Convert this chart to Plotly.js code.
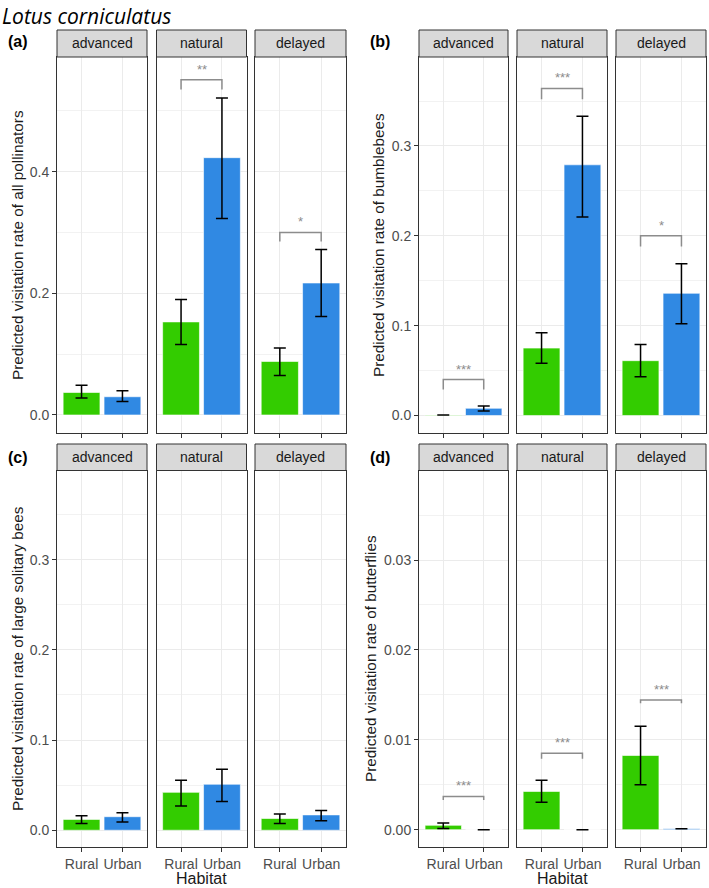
<!DOCTYPE html>
<html>
<head>
<meta charset="utf-8">
<script src="https://cdn.plot.ly/plotly-3.0.1.min.js"></script>
<style>
  html, body { margin: 0; padding: 0; background: #fff; }
  #plot { width: 709px; height: 888px; }
</style>
</head>
<body>
<div id="plot"></div>
<script>
// categories
const habitats = ['Rural', 'Urban'];
const timings = ['advanced', 'natural', 'delayed'];
const panelLetters = ['(a)', '(b)', '(c)', '(d)'];
const yTitles = [
  'Predicted visitation rate of all pollinators',
  'Predicted visitation rate of bumblebees',
  'Predicted visitation rate of large solitary bees',
  'Predicted visitation rate of butterflies'
];

// predicted values [timing][habitat]
const allMean = [[0.037, 0.030], [0.153, 0.423], [0.088, 0.217]];
const allLow  = [[0.028, 0.022], [0.116, 0.323], [0.065, 0.162]];
const allHigh = [[0.049, 0.040], [0.190, 0.521], [0.110, 0.272]];

const bumbleMean = [[0.0005, 0.008], [0.075, 0.279], [0.061, 0.136]];
const bumbleLow  = [[0.0004, 0.005], [0.058, 0.221], [0.043, 0.102]];
const bumbleHigh = [[0.0006, 0.0105], [0.092, 0.333], [0.079, 0.169]];

const solitaryMean = [[0.012, 0.015], [0.042, 0.051], [0.013, 0.017]];
const solitaryLow  = [[0.0075, 0.009], [0.027, 0.032], [0.0075, 0.0105]];
const solitaryHigh = [[0.016, 0.0195], [0.0555, 0.0675], [0.018, 0.022]];

const butterMean = [[0.00048, 0], [0.00425, 0], [0.00825, 0.0001]];
const butterLow  = [[0.00014, 0], [0.00306, 0], [0.0050, 0.0001]];
const butterHigh = [[0.00073, 0], [0.0055, 0], [0.0115, 0.0001]];

// significance brackets: panel, timing, top, leg end, label
const sigPanel  = [0, 0, 1, 1, 1, 3, 3, 3];
const sigTiming = [1, 2, 0, 1, 2, 0, 1, 2];
const sigTop    = [0.551, 0.300, 0.040, 0.364, 0.200, 0.0037, 0.0085, 0.01443];
const sigLeg    = [0.535, 0.285, 0.029, 0.352, 0.188, 0.0033, 0.0079, 0.01405];
const sigLabel  = ['**', '*', '***', '***', '*', '***', '***', '***'];

const yRanges = [[-0.0296, 0.5885], [-0.0195, 0.399], [-0.0186, 0.399], [-0.00193, 0.03996]];
const yDticks = [0.2, 0.1, 0.1, 0.01];
const yFormats = ['.1f', '.1f', '.1f', '.2f'];

const means = [allMean, bumbleMean, solitaryMean, butterMean];
const lows = [allLow, bumbleLow, solitaryLow, butterLow];
const highs = [allHigh, bumbleHigh, solitaryHigh, butterHigh];

const W = 709, H = 888;
const px = x => x / W;
const py = y => 1 - y / H;

// facet placement in pixels
const colFacets = [
  [[57, 147], [156.5, 246.5], [255, 346]],
  [[419, 508], [517, 607], [616, 706]]
];
const rowPlot = [[57, 433], [470.5, 847]];
const stripH = [27, 26.5];

const green = '#33cc00', blue = '#3089e3';
const font = '"Liberation Sans", Arial, sans-serif';

const data = [];
const layout = {
  width: W, height: H,
  margin: { l: 0, r: 0, t: 0, b: 0 },
  paper_bgcolor: '#fff', plot_bgcolor: '#fff',
  showlegend: false,
  bargap: 0,
  font: { family: font, size: 14, color: '#1a1a1a' },
  shapes: [], annotations: []
};

for (let p = 0; p < 4; p++) {
  const row = Math.floor(p / 2), col = p % 2;
  for (let f = 0; f < 3; f++) {
    const k = p * 3 + f + 1;
    const xa = k === 1 ? 'x' : 'x' + k;
    const ya = k === 1 ? 'y' : 'y' + k;
    const m = means[p][f];
    data.push({
      type: 'bar',
      x: [0, 1],
      y: m,
      width: 0.9,
      xaxis: xa, yaxis: ya,
      marker: { color: [green, blue], line: { color: 'rgba(255,255,255,0.6)', width: 1 } },
      error_y: {
        type: 'data', symmetric: false,
        array: highs[p][f].map((h, i) => h - m[i]),
        arrayminus: lows[p][f].map((l, i) => m[i] - l),
        color: '#000', thickness: 1.5, width: 6
      },
      hoverinfo: 'skip'
    });

    const xd = colFacets[col][f];
    const yd = rowPlot[row];
    layout['xaxis' + (k === 1 ? '' : k)] = {
      domain: [px(xd[0]), px(xd[1])],
      anchor: ya,
      range: [-0.6, 1.6],
      tickvals: [0, 1],
      ticktext: habitats,
      showticklabels: row === 1,
      ticks: 'outside', ticklen: 4, tickcolor: '#333', tickwidth: 1,
      tickfont: { size: 14, color: '#4d4d4d' },
      showgrid: true, gridcolor: '#ebebeb', gridwidth: 1,
      zeroline: false,
      showline: true, mirror: true, linecolor: '#333', linewidth: 1,
      fixedrange: true
    };
    layout['yaxis' + (k === 1 ? '' : k)] = {
      domain: [py(yd[1]), py(yd[0])],
      anchor: xa,
      range: yRanges[p],
      tick0: 0, dtick: yDticks[p],
      tickformat: yFormats[p],
      showticklabels: f === 0,
      ticks: f === 0 ? 'outside' : '', ticklen: 4, tickcolor: '#333', tickwidth: 1,
      tickfont: { size: 14, color: '#4d4d4d' },
      showgrid: true, gridcolor: '#ebebeb', gridwidth: 1,
      minor: { dtick: yDticks[p] / 2, tick0: 0, showgrid: true, gridcolor: '#f2f2f2', gridwidth: 1, ticks: '' },
      zeroline: false,
      showline: true, mirror: true, linecolor: '#333', linewidth: 1,
      fixedrange: true
    };

    // facet strip
    const sh = stripH[row] / (yd[1] - yd[0]);
    layout.shapes.push({
      type: 'rect', xref: xa + ' domain', yref: ya + ' domain',
      x0: 0, x1: 1, y0: 1, y1: 1 + sh,
      fillcolor: '#d9d9d9', line: { color: '#333', width: 1 }
    });
    layout.annotations.push({
      xref: xa + ' domain', yref: ya + ' domain',
      x: 0.5, y: 1 + sh / 2, xanchor: 'center', yanchor: 'middle',
      text: timings[f], showarrow: false,
      font: { size: 14, color: '#1a1a1a' }
    });
  }

  // panel letter, y title, x title
  const lx = col === 0 ? 18 : 380;
  const ly = row === 0 ? 42 : 458;
  layout.annotations.push({
    xref: 'paper', yref: 'paper', x: px(lx), y: py(ly),
    xanchor: 'center', yanchor: 'middle', showarrow: false,
    text: '<b>' + panelLetters[p] + '</b>', font: { size: 16, color: '#000' }
  });
  layout.annotations.push({
    xref: 'paper', yref: 'paper', x: px([17, 378, 17, 370][p]), y: py([245, 245, 659, 659][p]),
    xanchor: 'center', yanchor: 'middle', showarrow: false, textangle: -90,
    text: yTitles[p], font: { size: 15.3, color: '#1a1a1a' }
  });
  if (row === 1) {
    const mid = colFacets[col][1];
    layout.annotations.push({
      xref: 'paper', yref: 'paper', x: px((mid[0] + mid[1]) / 2), y: py(878),
      xanchor: 'center', yanchor: 'middle', showarrow: false,
      text: 'Habitat', font: { size: 16, color: '#1a1a1a' }
    });
  }
}

// significance brackets
for (let i = 0; i < sigPanel.length; i++) {
  const k = sigPanel[i] * 3 + sigTiming[i] + 1;
  const xa = k === 1 ? 'x' : 'x' + k;
  const ya = k === 1 ? 'y' : 'y' + k;
  layout.shapes.push({
    type: 'path', xref: xa, yref: ya,
    path: `M 0,${sigLeg[i]} L 0,${sigTop[i]} L 1,${sigTop[i]} L 1,${sigLeg[i]}`,
    line: { color: '#8c8c8c', width: 1.5 }
  });
  layout.annotations.push({
    xref: xa, yref: ya, x: 0.5, y: sigTop[i],
    xanchor: 'center', yanchor: 'bottom', showarrow: false, yshift: 1,
    text: sigLabel[i], font: { size: 13, color: '#8c8c8c' }
  });
}

// species title
layout.annotations.push({
  xref: 'paper', yref: 'paper', x: 0, y: 1,
  xanchor: 'left', yanchor: 'top', showarrow: false,
  text: '<i>Lotus corniculatus</i>',
  font: { family: '"Open Sans", sans-serif', size: 21, color: '#000' }
});

Plotly.newPlot('plot', data, layout, { displayModeBar: false, staticPlot: true });
</script>
</body>
</html>
